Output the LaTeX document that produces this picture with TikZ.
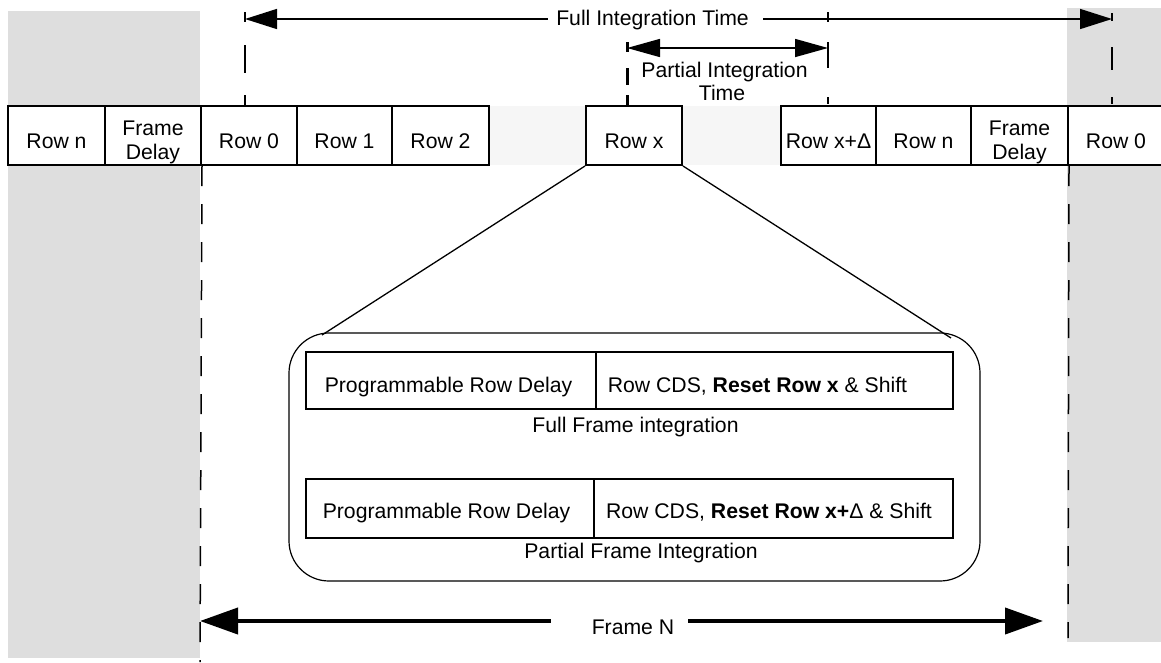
\documentclass[tikz,border=0pt]{standalone}
\usepackage{fontspec}
\setmainfont{Liberation Sans}
\usetikzlibrary{arrows.meta}
\definecolor{bandgray}{HTML}{DEDEDE}
\definecolor{palegray}{HTML}{F6F6F6}
\tikzset{
  rowbox/.style={draw, fill=white, line width=2pt, minimum height=59pt, inner sep=0pt},
  innerbox/.style={draw, line width=2pt, inner sep=0pt},
  lbl/.style={anchor=base, inner sep=0pt, font=\fontsize{21.2}{24}\selectfont},
  vdash/.style={line width=1.5pt, dash pattern=on 20pt off 18pt},
  thin arrow/.style={line width=1.5pt},
  tipA/.tip={Triangle[length=32pt,width=20pt]},
  tipB/.tip={Triangle[length=33pt,width=18pt]},
  tipC/.tip={Triangle[length=38pt,width=26pt]}
}
\begin{document}
\begin{tikzpicture}[x=1pt,y=-1pt]
\useasboundingbox (0,0) rectangle (1161,662);
% shaded regions
\fill[bandgray] (8,11) rectangle (200,658);
\fill[bandgray] (1067,8) rectangle (1161,642);
\fill[palegray] (489,106) rectangle (586,165);
\fill[palegray] (682,106) rectangle (781,165);

% row boxes
\node[rowbox, minimum width=97pt] (rn1) at (56.5,135.5) {};
\node[rowbox, minimum width=96pt] (fd1) at (153,135.5) {};
\node[rowbox, minimum width=96pt] (r0a) at (249,135.5) {};
\node[rowbox, minimum width=95pt] (r1) at (344.5,135.5) {};
\node[rowbox, minimum width=97pt] (r2) at (440.5,135.5) {};
\node[rowbox, minimum width=96pt] (rx) at (634,135.5) {};
\node[rowbox, minimum width=95pt] (rxd) at (828.5,135.5) {};
\node[rowbox, minimum width=95pt] (rn2) at (923.5,135.5) {};
\node[rowbox, minimum width=97pt] (fd2) at (1019.5,135.5) {};
\node[rowbox, minimum width=97pt] (r0b) at (1116.5,135.5) {};

\node[lbl] (trn1) at (56.5,148) {Row n};
\node[lbl] (tfd1a) at (153,135) {Frame};
\node[lbl] (tfd1b) at (153,159) {Delay};
\node[lbl] (tr0a) at (249,148) {Row 0};
\node[lbl] (tr1) at (344.5,148) {Row 1};
\node[lbl] (tr2) at (440.5,148) {Row 2};
\node[lbl] (trx) at (634,148) {Row x};
\node[lbl] (trxd) at (828.5,148) {Row x+Δ};
\node[lbl] (trn2) at (923.5,148) {Row n};
\node[lbl] (tfd2a) at (1019.5,135) {Frame};
\node[lbl] (tfd2b) at (1019.5,159) {Delay};
\node[lbl] (tr0b) at (1116,148) {Row 0};

% long dashed frame boundaries
\coordinate (lbot) at (200,662);
\coordinate (rbot) at (1068,638);
\draw[vdash] (fd1.south east) -- (lbot);
\draw[vdash] (fd2.south east) -- (rbot);

% short dashed markers above rows
\coordinate (m245t) at (245,12);  \coordinate (m245b) at (245,106);
\coordinate (m1112t) at (1112,13); \coordinate (m1112b) at (1112,104);
\coordinate (m828t) at (828,12);  \coordinate (m828b) at (828,104);
\coordinate (m627t) at (627,42);
\draw[line width=1.5pt, dash pattern=on 10pt off 23pt on 28pt off 22pt on 20pt] (m245t) -- (m245b);
\draw[line width=1.5pt, dash pattern=on 8pt off 26pt on 23pt off 27pt on 20pt] (m1112t) -- (m1112b);
\draw[line width=1.5pt, dash pattern=on 10pt off 20pt on 26pt off 29pt on 20pt] (m828t) -- (m828b);
\draw[line width=3pt, dash pattern=on 10pt off 16pt on 17pt off 10pt on 20pt] (m627t) -- (m627t |- rx.north);

% Full integration time
\coordinate (fiL) at (245,19);
\coordinate (fiR) at (1112,19);
\coordinate (fiLm) at (548,19);
\coordinate (fiRm) at (763,19);
\draw[thin arrow, tipA-] (fiL) -- (fiLm);
\draw[thin arrow, -tipA] (fiRm) -- (fiR);
\node[lbl] (tfi) at (652.5,25) {Full Integration Time};

% Partial integration time
\coordinate (piL) at (627,48);
\coordinate (piR) at (828,48);
\draw[thin arrow, tipB-tipB] (piL) -- (piR);
\node[lbl] (tpi1) at (724.5,77) {Partial Integration};
\node[lbl] (tpi2) at (722,100) {Time};

% zoom box
\node[draw, line width=1.2pt, rounded corners=40pt, minimum width=691pt, minimum height=248pt, inner sep=0pt] (zb) at (634.5,457) {};
\coordinate (zl) at (322,335);
\coordinate (zr) at (951,338);
\draw[line width=1.3pt] (rx.south west) -- (zl);
\draw[line width=1.3pt] (rx.south east) -- (zr);

% inner boxes
\node[innerbox, minimum width=290pt, minimum height=57pt] (a1) at (451,380.5) {};
\node[innerbox, minimum width=357pt, minimum height=57pt] (a2) at (774.5,380.5) {};
\node[innerbox, minimum width=288pt, minimum height=59pt] (b1) at (450,508.5) {};
\node[innerbox, minimum width=359pt, minimum height=59pt] (b2) at (773.5,508.5) {};

\node[lbl] (ta1) at (448.5,392) {Programmable Row Delay};
\node[lbl] (ta2) at (757.5,392) {Row CDS, \textbf{Reset Row x} \& Shift};
\node[lbl] (tb1) at (446.5,518) {Programmable Row Delay};
\node[lbl] (tb2) at (769,518) {Row CDS, \textbf{Reset Row x+}Δ \& Shift};
\node[lbl] (tfa) at (635.5,432) {Full Frame integration};
\node[lbl] (tpa) at (641,558) {Partial Frame Integration};

% Frame N
\coordinate (fnL) at (200,621);
\coordinate (fnR) at (1043,621);
\coordinate (fnLm) at (551,621);
\coordinate (fnRm) at (688,621);
\draw[line width=4pt, tipC-] (fnL) -- (fnLm);
\draw[line width=4pt, -tipC] (fnRm) -- (fnR);
\node[lbl] (tfn) at (633,634) {Frame N};
\end{tikzpicture}
\end{document}
